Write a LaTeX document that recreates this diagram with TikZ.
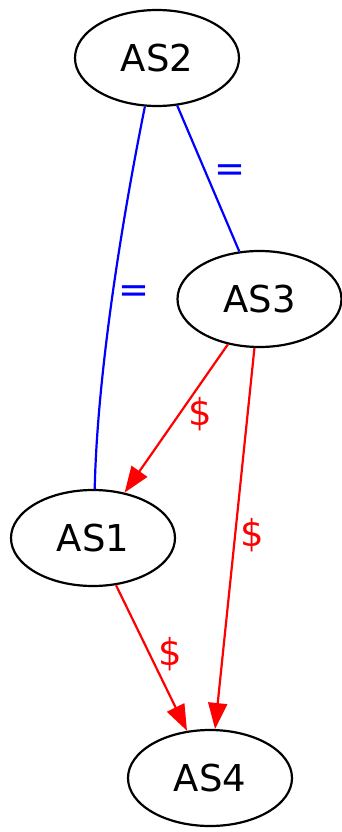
\documentclass[tikz,border=0pt]{standalone}
\usepackage{fontspec}
\setmainfont{DejaVu Sans}
\usetikzlibrary{arrows.meta,shapes.geometric}
\tikzset{
  asnode/.style={draw=black, line width=2.2pt, ellipse, minimum width=164pt, minimum height=96pt, inner sep=0pt, font=\fontsize{37}{44}\selectfont},
  eqedge/.style={draw=blue, line width=2.2pt},
  payedge/.style={draw=red, line width=2.2pt, -{Triangle[length=26pt,width=19pt]}},
  eqlabel/.style={text=blue, inner sep=0pt, font=\fontsize{37}{44}\selectfont},
  paylabel/.style={text=red, inner sep=0pt, font=\fontsize{37}{44}\selectfont}
}
\begin{document}
\begin{tikzpicture}[x=1pt,y=-1pt]
\useasboundingbox (0,0) rectangle (342,832);
\node[asnode] (AS2) at (157,58) {AS2};
\node[asnode] (AS3) at (259.5,299) {AS3};
\node[asnode] (AS1) at (93,538) {AS1};
\node[asnode] (AS4) at (210,778) {AS4};
\draw[eqedge] (AS2) -- (AS3);
\draw[eqedge] (AS2.256) .. controls (120,230) and (97,380) .. (AS1.88);
\draw[payedge] (AS3) -- (AS1);
\draw[payedge] (AS3) -- (AS4);
\draw[payedge] (AS1) -- (AS4);
\node[eqlabel] (l1) at (230,173) {=};
\node[eqlabel] (l2) at (134,294) {=};
\node[paylabel] (l3) at (200,414) {\$};
\node[paylabel] (l4) at (252,535) {\$};
\node[paylabel] (l5) at (170,654) {\$};
\end{tikzpicture}
\end{document}
